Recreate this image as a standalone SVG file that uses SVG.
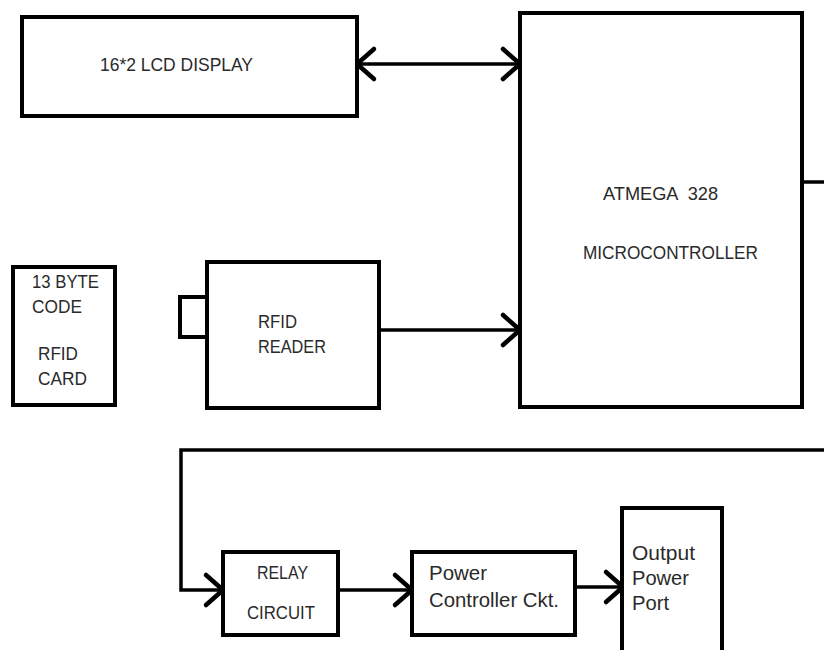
<svg xmlns="http://www.w3.org/2000/svg" width="824" height="650" viewBox="0 0 824 650">
<style>
.box{fill:#fff;stroke:#000;stroke-width:4}
.t{font-family:"Liberation Sans",Arial,sans-serif;fill:#2a2a2a;font-size:19px}
.m{font-size:20px}
.c{fill:none;stroke:#000;stroke-width:3.5}
</style>
<defs>
<marker id="ah" markerUnits="userSpaceOnUse" markerWidth="40" markerHeight="40" viewBox="-22 -20 26 40" refX="0" refY="0" orient="auto-start-reverse">
<path d="M-17,-15 L0,0 L-17,15" fill="none" stroke="#000" stroke-width="4.5" stroke-linecap="round" stroke-linejoin="round"/>
</marker>
</defs>
<rect width="824" height="650" fill="#fff"/>
<g id="connectors">
<line class="c" x1="357" y1="64" x2="520" y2="64" marker-start="url(#ah)" marker-end="url(#ah)"/>
<line class="c" x1="379" y1="330" x2="520" y2="330" marker-end="url(#ah)"/>
<polyline class="c" stroke-width="4" points="802,182 830,182 830,450 181,450 181,590 223,590" marker-end="url(#ah)"/>
<line class="c" x1="338" y1="590" x2="412" y2="590" marker-end="url(#ah)"/>
<line class="c" x1="575" y1="587" x2="623" y2="587" marker-end="url(#ah)"/>
</g>
<g id="lcd">
<rect class="box" x="22" y="17" width="335" height="99"/>
<text class="t" x="100" y="71" textLength="153" lengthAdjust="spacingAndGlyphs">16*2 LCD DISPLAY</text>
</g>
<g id="mcu">
<rect class="box" x="520" y="13" width="282" height="394"/>
<text class="t" x="603" y="200" textLength="115" lengthAdjust="spacingAndGlyphs" xml:space="preserve">ATMEGA  328</text>
<text class="t" x="583" y="259" textLength="175" lengthAdjust="spacingAndGlyphs">MICROCONTROLLER</text>
</g>
<g id="card">
<rect class="box" x="13" y="267" width="102" height="138"/>
<text class="t" x="32" y="288" textLength="67" lengthAdjust="spacingAndGlyphs">13 BYTE</text>
<text class="t" x="32" y="313" textLength="50" lengthAdjust="spacingAndGlyphs">CODE</text>
<text class="t" x="38" y="360" textLength="40" lengthAdjust="spacingAndGlyphs">RFID</text>
<text class="t" x="38" y="385" textLength="49" lengthAdjust="spacingAndGlyphs">CARD</text>
</g>
<g id="reader">
<rect class="box" x="180" y="297" width="29" height="40"/>
<rect class="box" x="207" y="262" width="172" height="146"/>
<text class="t" x="258" y="328" textLength="39" lengthAdjust="spacingAndGlyphs">RFID</text>
<text class="t" x="258" y="353" textLength="68" lengthAdjust="spacingAndGlyphs">READER</text>
</g>
<g id="relay">
<rect class="box" x="223" y="552" width="115" height="83"/>
<text class="t" x="257" y="579" textLength="51" lengthAdjust="spacingAndGlyphs">RELAY</text>
<text class="t" x="247" y="619" textLength="68" lengthAdjust="spacingAndGlyphs">CIRCUIT</text>
</g>
<g id="power">
<rect class="box" x="412" y="552" width="163" height="83"/>
<text class="t m" x="429" y="580" textLength="58" lengthAdjust="spacingAndGlyphs">Power</text>
<text class="t m" x="429" y="607" textLength="130" lengthAdjust="spacingAndGlyphs">Controller Ckt.</text>
</g>
<g id="output">
<rect class="box" x="622" y="508" width="100" height="160"/>
<text class="t m" x="632" y="560" textLength="63" lengthAdjust="spacingAndGlyphs">Output</text>
<text class="t m" x="632" y="585" textLength="57" lengthAdjust="spacingAndGlyphs">Power</text>
<text class="t m" x="632" y="610" textLength="37" lengthAdjust="spacingAndGlyphs">Port</text>
</g>
</svg>
